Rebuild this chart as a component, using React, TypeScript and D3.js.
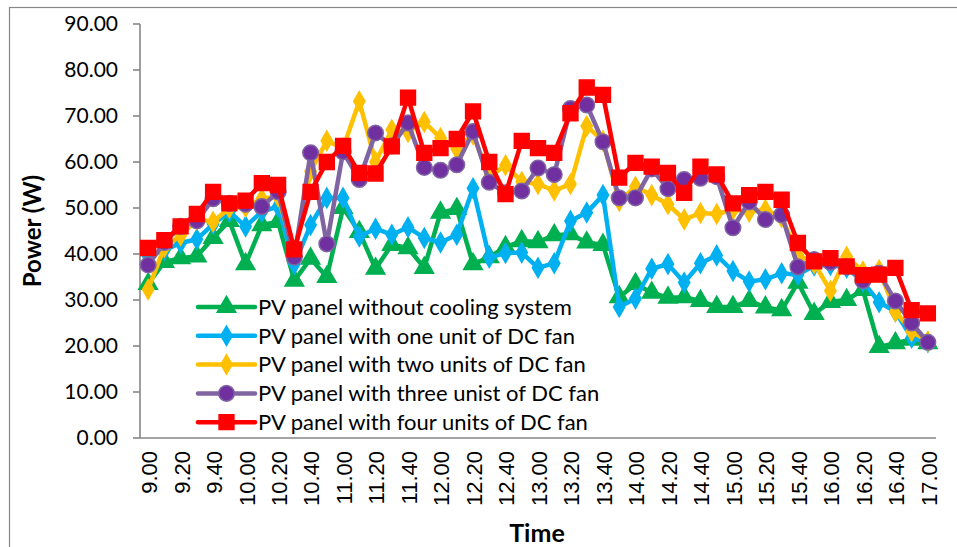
import * as d3 from 'd3';

const times = d3.range(49).map(i => {
  const h = 9 + Math.floor(i / 6);
  const m = (i % 6) * 10;
  return `${h}.${m === 0 ? '00' : m}`;
});

const yTicks = [0, 10, 20, 30, 40, 50, 60, 70, 80, 90];

const noCooling = [33.5, 38.3, 39.1, 39.5, 43.5, 47.2, 37.8, 46.3, 47, 34.2, 39, 35, 50, 44.8, 36.8, 42, 41.3, 37, 49, 49.8, 37.8, 39.3, 41.5, 42.8, 42.6, 44.1, 44.3, 42.5, 42, 30.6, 33.5, 31.6, 30.5, 30.6, 29.8, 28.5, 28.5, 29.8, 28.4, 27.8, 33.8, 27, 29.6, 30, 32.2, 19.8, 20.6, 21.4, 20.6];
const oneFan = [39.5, 40.8, 42.4, 43.2, 46.5, 49.2, 46, 49.2, 50.3, 37.8, 46.3, 52.2, 52.2, 43.8, 45.5, 44.2, 45.8, 43.5, 42.5, 44.2, 54.3, 39.2, 40.2, 40.3, 37, 38, 47.2, 49, 52.8, 28.5, 30.3, 36.8, 37.8, 33.8, 38, 39.7, 36.3, 34, 34.5, 35.8, 35.5, 37.5, 37.6, 37, 34, 29.5, 27.5, 21.8, 20.8];
const twoFans = [32.3, 41.5, 44, 47.5, 47, 50, 50.2, 52, 52.5, 40, 58, 64.6, 63, 73.2, 60, 67, 66.5, 68.7, 65.2, 62.8, 66, 56.7, 59.3, 55.7, 55.2, 53.8, 55.2, 67.8, 64.6, 51.5, 54.6, 52.8, 50.8, 47.5, 48.9, 48.7, 49.6, 49.2, 49.6, 48, 39.8, 38, 32, 39.4, 36.2, 36.5, 27.5, 23.2, 21];
const threeFans = [37.6, 42.5, 46, 47.2, 52, 51, 50.8, 50.3, 53.5, 39.3, 62, 42.2, 62.2, 56.2, 66.3, 63.5, 68.5, 58.8, 58.2, 59.4, 66.6, 55.6, 53.3, 53.7, 58.7, 57.3, 71.6, 72.4, 64.4, 52.2, 52.2, 58.5, 54.2, 56.2, 56.5, 56.8, 45.7, 51.3, 47.5, 48.5, 37.2, 38.8, 38.2, 37.2, 34.2, 35.8, 29.8, 25, 20.8];
const fourFans = [41.3, 43, 46, 48.7, 53.5, 51, 51.6, 55.4, 55, 41, 53.5, 60, 63.5, 57.6, 57.5, 63.4, 74, 62, 63, 65, 71, 60, 53, 64.6, 63, 62, 70.6, 76.2, 74.6, 56.6, 59.8, 59, 57.6, 53.3, 59, 57.3, 51, 52.8, 53.5, 51.8, 42.4, 38.4, 39.1, 37.3, 35.4, 35.5, 37, 27.8, 27.1];

const seriesNames = [
  'PV panel without cooling system',
  'PV panel with one unit of DC fan',
  'PV panel with two units of DC fan',
  'PV panel with three unist of DC fan',
  'PV panel with four units of DC fan',
];

const series = [
  { name: seriesNames[0], values: noCooling, line: '#00B050', fill: '#00B050', stroke: '#00B050', shape: d3.symbolTriangle, size: 150 },
  { name: seriesNames[1], values: oneFan, line: '#00B0F0', fill: '#00B0F0', stroke: '#00B0F0', shape: d3.symbolDiamond, size: 110 },
  { name: seriesNames[2], values: twoFans, line: '#FFC000', fill: '#FFC000', stroke: '#FFC000', shape: d3.symbolDiamond, size: 110 },
  { name: seriesNames[3], values: threeFans, line: '#8064A2', fill: '#7030A0', stroke: '#8064A2', shape: d3.symbolCircle, size: 190 },
  { name: seriesNames[4], values: fourFans, line: '#FF0000', fill: '#FF0000', stroke: '#FF0000', shape: d3.symbolSquare, size: 220 },
];

const axisColor = '#868686';

export default function App() {
  const width = 957;
  const height = 547;
  const left = 140, right = 936, top = 24, bottom = 438;

  const x = d3.scaleBand<string>().domain(times).range([left, right]).paddingInner(0).paddingOuter(0);
  const y = d3.scaleLinear().domain([0, 90]).range([bottom, top]);
  const cx = (t: string) => (x(t) as number) + x.bandwidth() / 2;

  const line = d3.line<number>()
    .x((_, i) => cx(times[i]))
    .y(d => y(d));

  const legendX = 198, legendY0 = 307, legendStep = 28.8;

  return (
    <svg width={width} height={height} style={{ position: 'absolute', left: 0, top: 0 }}>
      <rect x={0} y={0} width={width} height={height} fill="#fff" />
      <rect x={9.5} y={7.5} width={980} height={600} fill="none" stroke={axisColor} strokeWidth={1.2} />

      {/* y axis */}
      <line x1={left} x2={left} y1={top} y2={bottom} stroke={axisColor} strokeWidth={1.6} />
      {yTicks.map(t => (
        <g key={t}>
          <line x1={left - 7} x2={left} y1={y(t)} y2={y(t)} stroke={axisColor} strokeWidth={1.6} />
          <text x={118} y={y(t)} dy="0.35em" textAnchor="end" fontFamily="Lato" fontSize={21} fill="#000">
            {t.toFixed(2)}
          </text>
        </g>
      ))}
      <line x1={left} x2={right} y1={bottom} y2={bottom} stroke={axisColor} strokeWidth={1.6} />

      {/* x labels */}
      {times.map((t, i) => i % 2 === 0 ? (
        <text key={t} transform={`translate(${cx(t) + 1},451) rotate(-90)`} textAnchor="end" dy="0.36em"
          fontFamily="Liberation Sans" fontSize={22} fill="#000">{t}</text>
      ) : null)}

      <text transform="translate(33,231) rotate(-90)" textAnchor="middle" dy="0.35em" fontFamily="Lato" fontWeight="bold" fontSize={24}>Power (W)</text>
      <text x={537} y={533} textAnchor="middle" dy="0.35em" fontFamily="Lato" fontWeight="bold" fontSize={25}>Time</text>

      {/* lines */}
      {series.map(s => (
        <g key={s.name}>
          <path d={line(s.values) as string} fill="none" stroke={s.line} strokeWidth={4.5} strokeLinejoin="round" />
          {s.values.map((v, i) => (
            <path key={i} d={d3.symbol().type(s.shape).size(s.size)() as string}
              transform={`translate(${cx(times[i])},${y(v)})`} fill={s.fill} stroke={s.stroke} strokeWidth={1.5} />
          ))}
        </g>
      ))}

      {/* legend */}
      <rect x={194} y={293} width={400} height={142} fill="#fff" />
      {series.map((s, i) => {
        const ly = legendY0 + i * legendStep;
        return (
          <g key={s.name}>
            <line x1={legendX} x2={legendX + 57} y1={ly} y2={ly} stroke={s.line} strokeWidth={4.5} strokeLinecap="round" />
            <path d={d3.symbol().type(s.shape).size(s.size)() as string}
              transform={`translate(${legendX + 28.5},${ly})`} fill={s.fill} stroke={s.stroke} strokeWidth={1.5} />
            <text x={legendX + 60} y={ly} dy="0.35em" fontFamily="Lato" fontSize={22} fill="#000">{s.name}</text>
          </g>
        );
      })}
    </svg>
  );
}
